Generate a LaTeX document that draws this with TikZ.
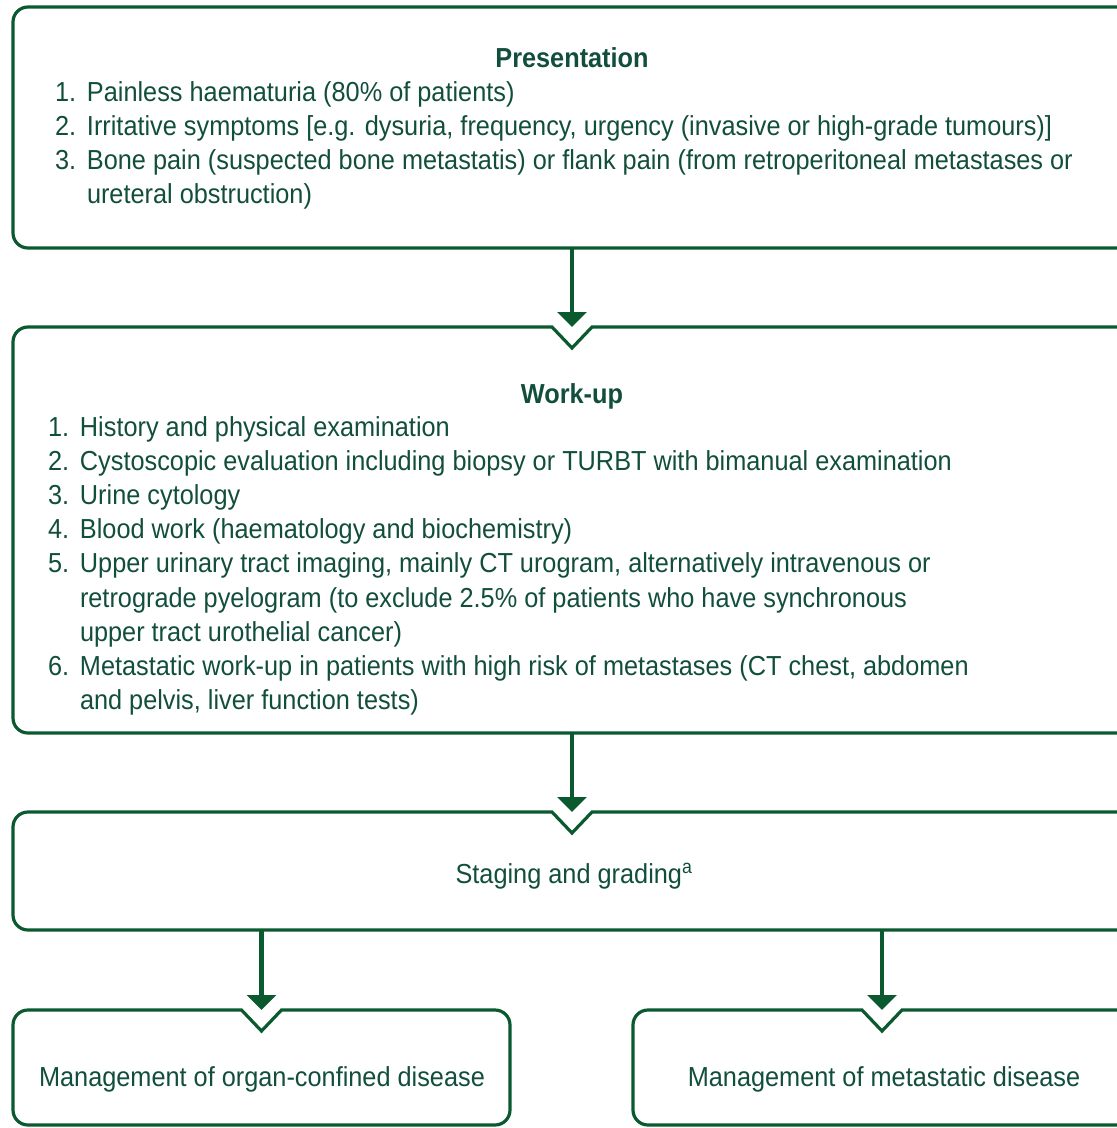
\documentclass[tikz,border=0pt]{standalone}
\usepackage{fontspec}
\setmainfont[FakeStretch=0.92]{Liberation Sans}
\usetikzlibrary{arrows.meta}

\definecolor{boxgreen}{HTML}{0B5A2F}
\definecolor{textgreen}{HTML}{124E3C}

% outline of a box whose top edge carries a V-shaped notch at its middle
\newcommand\notchbox[1]{%
  \draw[boxline,rounded corners=15pt]
    ([xshift=20pt]#1.north) -- (#1.north east) -- (#1.south east)
    -- (#1.south west) -- (#1.north west) [sharp corners]
    -- ([xshift=-20pt]#1.north) -- ([yshift=-21pt]#1.north) -- cycle;}
\newcommand\plainbox[1]{%
  \draw[boxline,rounded corners=15pt]
    (#1.north west) rectangle (#1.south east);}
\newcommand\num[1]{\makebox[32pt][l]{#1}}
\newcommand\cont{\hspace*{32pt}}

\begin{document}
\begin{tikzpicture}[x=1pt,y=-1pt,
  area/.style={rectangle,draw=none,inner sep=0pt,outer sep=0pt},
  boxline/.style={draw=boxgreen,line width=3.2pt,line join=miter},
  arr/.style={draw=boxgreen,line width=4.2pt,
    -{Triangle[width=29pt,length=15pt]}},
  txt/.style={text=textgreen,inner sep=0pt,outer sep=0pt,
    font=\fontsize{27.5}{34.2}\selectfont},
  heading/.style={txt,font=\fontsize{27.5}{34.2}\selectfont\bfseries}]

\useasboundingbox (0,0) rectangle (1117,1128);
\clip (0,0) rectangle (1117,1128);

% box areas
\node[area,minimum width=1118pt,minimum height=241pt] (pres)  at (572,127.5) {};
\node[area,minimum width=1118pt,minimum height=406pt] (work)  at (572,530) {};
\node[area,minimum width=1118pt,minimum height=118pt] (stage) at (572,871) {};
\node[area,minimum width=497pt,minimum height=115pt]  (organ) at (261.5,1067.5) {};
\node[area,minimum width=498pt,minimum height=115pt]  (meta)  at (882,1067.5) {};

% outlines
\plainbox{pres}
\notchbox{work}
\notchbox{stage}
\notchbox{organ}
\notchbox{meta}

% connectors
\draw[arr] (pres.south) -- (work.north);
\draw[arr] (work.south) -- (stage.north);
\draw[arr] (stage.south -| organ.north) -- (organ.north);
\draw[arr] (stage.south -| meta.north) -- (meta.north);

% texts
\node[heading,anchor=base] (presT) at (572,67) {Presentation};
\node[txt,anchor=base west] (presL) at (55,101) {%
  \begin{tabular}[t]{@{}l@{}}
  \num{1.}Painless haematuria (80\% of patients)\\
  \num{2.}Irritative symptoms [e.g. dysuria, frequency, urgency (invasive or high-grade tumours)]\\
  \num{3.}Bone pain (suspected bone metastatis) or flank pain (from retroperitoneal metastases or\\
  \cont ureteral obstruction)
  \end{tabular}};

\node[heading,anchor=base] (workT) at (572,403) {Work-up};
\node[txt,anchor=base west] (workL) at (48,436) {%
  \begin{tabular}[t]{@{}l@{}}
  \num{1.}History and physical examination\\
  \num{2.}Cystoscopic evaluation including biopsy or TURBT with bimanual examination\\
  \num{3.}Urine cytology\\
  \num{4.}Blood work (haematology and biochemistry)\\
  \num{5.}Upper urinary tract imaging, mainly CT urogram, alternatively intravenous or\\
  \cont retrograde pyelogram (to exclude 2.5\% of patients who have synchronous\\
  \cont upper tract urothelial cancer)\\
  \num{6.}Metastatic work-up in patients with high risk of metastases (CT chest, abdomen\\
  \cont and pelvis, liver function tests)
  \end{tabular}};

\node[txt,anchor=base] (stageT) at (574,883) {Staging and grading\textsuperscript{a}};
\node[txt,anchor=base] (organT) at (262,1086) {Management of organ-confined disease};
\node[txt,anchor=base] (metaT)  at (884,1086) {Management of metastatic disease};

\end{tikzpicture}
\end{document}
